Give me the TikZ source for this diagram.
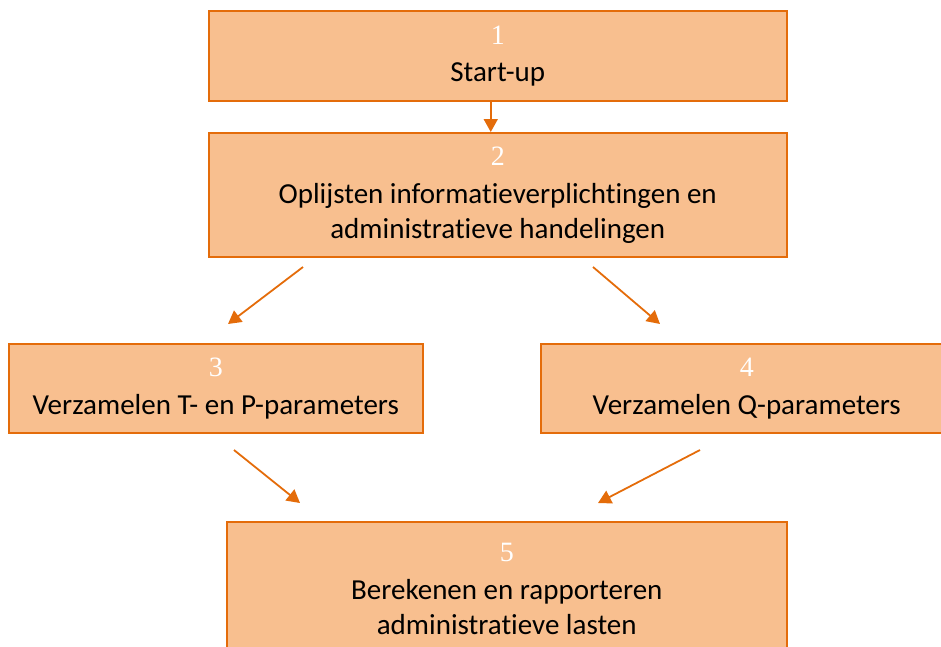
\documentclass[tikz,border=0pt]{standalone}
\usepackage{fontspec}
\setmainfont{Carlito}[Ligatures=CommonOff]
\newfontfamily\numfont{Liberation Serif}
\usetikzlibrary{arrows.meta}
\definecolor{stapvul}{RGB}{248,191,143}
\definecolor{staprand}{RGB}{228,108,10}
\newcommand{\stapnr}[1]{{\numfont\fontsize{28}{38}\selectfont\color{white}#1}}

\begin{document}
\begin{tikzpicture}[x=1pt, y=-1pt,
    stap/.style={draw=staprand, line width=1.5pt, fill=stapvul, align=center,
        anchor=north west, inner sep=0pt, font=\fontsize{29}{35}\selectfont},
    pijl/.style={draw=staprand, line width=1.8pt, -{Triangle[length=13pt, width=14pt]}}]
        % --- kader ---
        \useasboundingbox (0,0) rectangle (941,646);

        % --- stappen ---
        \node[stap, minimum width=578pt, minimum height=90pt] (s1) at (208,10)
            {\stapnr{1}\\[2pt]Start-up};
        \node[stap, minimum width=578pt, minimum height=124pt] (s2) at (208,132)
            {\stapnr{2}\\[3pt]Oplijsten informatieverplichtingen en\\administratieve handelingen};
        \node[stap, minimum width=414pt, minimum height=89pt] (s3) at (8,343)
            {\stapnr{3}\\[3pt]Verzamelen T- en P-parameters};
        \node[stap, minimum width=412pt, minimum height=89pt] (s4) at (540,343)
            {\stapnr{4}\\[3pt]Verzamelen Q-parameters};
        \node[stap, minimum width=560pt, minimum height=134pt] (s5) at (226,521)
            {\stapnr{5}\\[3pt]Berekenen en rapporteren\\administratieve lasten};

        % --- losse eindpunten van de pijlen ---
        \coordinate (p2l) at (303,267);
        \coordinate (p3t) at (228,324);
        \coordinate (p2r) at (593,267);
        \coordinate (p4t) at (660,324);
        \coordinate (p3b) at (234,450);
        \coordinate (p5l) at (300,503);
        \coordinate (p4b) at (700,450);
        \coordinate (p5r) at (598,503);

        % --- pijlen ---
        \draw[pijl] ([xshift=-7pt]s1.south) -- ([xshift=-7pt]s2.north);
        \draw[pijl] (p2l) -- (p3t);
        \draw[pijl] (p2r) -- (p4t);
        \draw[pijl] (p3b) -- (p5l);
        \draw[pijl] (p4b) -- (p5r);
\end{tikzpicture}
\end{document}
